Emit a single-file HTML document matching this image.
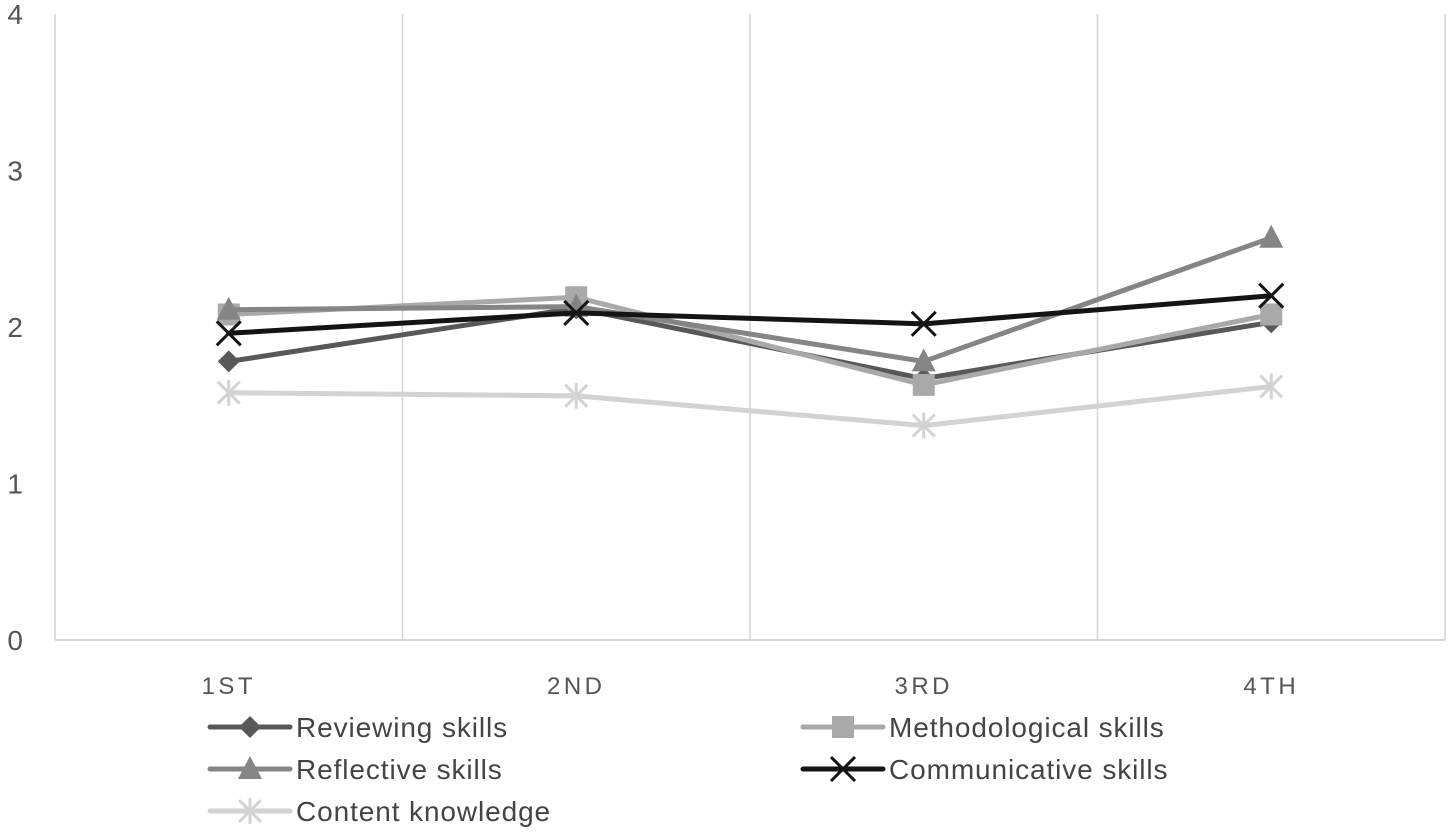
<!DOCTYPE html>
<html><head><meta charset="utf-8"><style>
html,body{margin:0;padding:0;background:#fff;}
svg{display:block;font-family:"Liberation Sans",sans-serif;}
</style></head><body>
<svg id="chart" width="1450" height="832" viewBox="0 0 1450 832" xmlns="http://www.w3.org/2000/svg">
<g id="grid"></g>
<g id="yaxis"></g>
<g id="xaxis"></g>
<g id="series"></g>
<g id="legend"></g>
</svg>
<script>
const categories = ["1ST","2ND","3RD","4TH"];
const yTicks = [0,1,2,3,4];
const seriesNames = ["Reviewing skills","Methodological skills","Reflective skills","Communicative skills","Content knowledge"];
const reviewing = [1.78,2.12,1.67,2.03];
const methodological = [2.08,2.19,1.63,2.08];
const reflective = [2.11,2.13,1.78,2.57];
const communicative = [1.96,2.09,2.02,2.20];
const content = [1.58,1.56,1.37,1.62];

const NS="http://www.w3.org/2000/svg";
const left=55,right=1445,y0=640,y4=14;
const bandW=(right-left)/categories.length;
const xPos=i=>left+bandW*(i+0.5);
const yPos=v=>y0-(y0-y4)*v/4;
function mk(tag,attrs,parent){const e=document.createElementNS(NS,tag);for(const k in attrs)e.setAttribute(k,attrs[k]);parent.appendChild(e);return e;}
const grid=document.getElementById('grid'),ya=document.getElementById('yaxis'),xa=document.getElementById('xaxis'),sg=document.getElementById('series'),lg=document.getElementById('legend');

for(let i=0;i<=categories.length;i++){
  const x=left+bandW*i;
  const l=mk('line',{x1:x,x2:x,y1:y4,y2:y0,stroke:'#d4d4d4','stroke-width':1.5},grid);
  
  
}
const base=mk('line',{x1:left,x2:right,y1:y0,y2:y0,stroke:'#c8c8c8','stroke-width':1.5},grid);



yTicks.forEach(t=>{
  const tx=mk('text',{x:23,y:yPos(t)+10,'text-anchor':'end','font-size':28,fill:'#555'},ya);
  tx.textContent=t;
  
  
});
categories.forEach((c,i)=>{
  const tx=mk('text',{x:xPos(i),y:694,'text-anchor':'middle','font-size':24,fill:'#555','letter-spacing':3.5},xa);
  tx.textContent=c;
  
  
});

const styles=[
 {data:reviewing,color:'#585858',m:'diamond'},
 {data:methodological,color:'#a9a9a9',m:'square'},
 {data:reflective,color:'#858585',m:'triangle'},
 {data:communicative,color:'#141414',m:'x'},
 {data:content,color:'#d3d3d3',m:'star'}
];
function marker(type,x,y,color,parent){
  let e;
  if(type==='diamond'){e=mk('polygon',{points:`${x},${y-11} ${x+11},${y} ${x},${y+11} ${x-11},${y}`,fill:color},parent);}
  else if(type==='square'){e=mk('rect',{x:x-11,y:y-11,width:22,height:22,fill:color},parent);}
  else if(type==='triangle'){e=mk('polygon',{points:`${x},${y-13} ${x+12},${y+10} ${x-12},${y+10}`,fill:color},parent);}
  else if(type==='x'){e=mk('path',{d:`M${x-12},${y-12}L${x+12},${y+12}M${x+12},${y-12}L${x-12},${y+12}`,stroke:color,'stroke-width':3,fill:'none'},parent);}
  else {e=mk('path',{d:`M${x-11},${y-11}L${x+11},${y+11}M${x+11},${y-11}L${x-11},${y+11}M${x},${y-13}L${x},${y+13}`,stroke:color,'stroke-width':3,fill:'none'},parent);}
  return e;
}
styles.forEach((s,si)=>{
  const g=mk('g',{},sg);
  
  
  const pts=s.data.map((v,i)=>xPos(i)+','+yPos(v)).join(' ');
  const pl=mk('polyline',{points:pts,fill:'none',stroke:s.color,'stroke-width':5,'stroke-linejoin':'round'},g);
  
  
  s.data.forEach((v,i)=>{
    const m=marker(s.m,xPos(i),yPos(v),s.color,g);
    
    
  });
});

const legPos=[[210,727],[803,727],[210,769],[803,769],[210,811]];
styles.forEach((s,si)=>{
  const [lx,ly]=legPos[si];
  const g=mk('g',{},lg);
  
  
  mk('line',{x1:lx,x2:lx+80,y1:ly,y2:ly,stroke:s.color,'stroke-width':5,'stroke-linecap':'round'},g);
  marker(s.m,lx+40,ly,s.color,g);
  const t=mk('text',{x:lx+86,y:ly+10,'font-size':28,fill:'#444','letter-spacing':0.9},g);
  t.textContent=seriesNames[si];
});
</script>
</body></html>
